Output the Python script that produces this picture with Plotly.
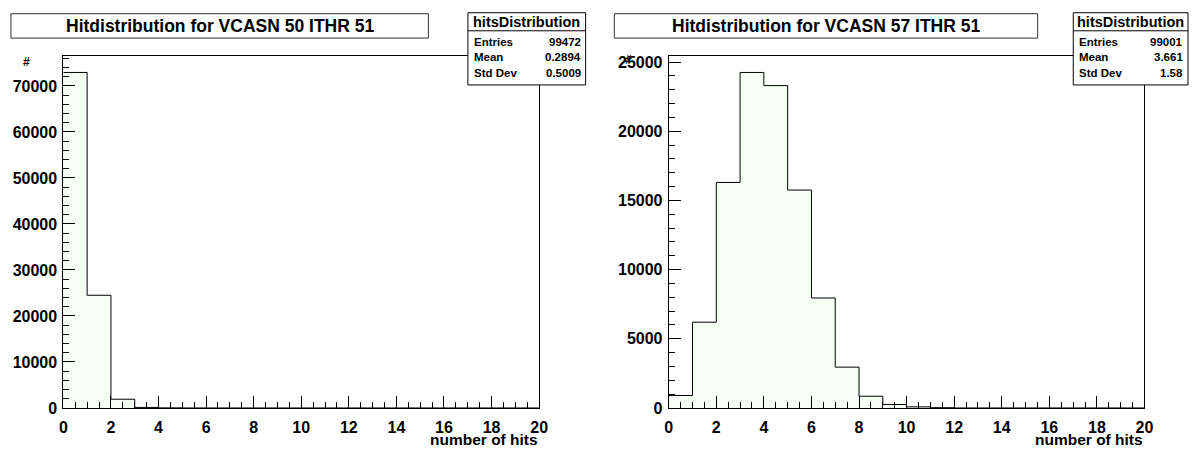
import plotly.graph_objects as go

W, H = 1198, 456

# ---------------- data ----------------
bin_edges = list(range(0, 21))
left_counts = [72930, 24500, 1900, 120, 20, 0, 0, 0, 0, 0,
               0, 0, 0, 0, 0, 0, 0, 0, 0, 0]
right_counts = [900, 6200, 16300, 24250, 23300, 15750, 7950, 2950, 850, 250,
                80, 20, 0, 0, 0, 0, 0, 0, 0, 0]
left_title = "Hitdistribution for VCASN 50 ITHR 51"
right_title = "Hitdistribution for VCASN 57 ITHR 51"
left_stats = [("Entries", "99472"), ("Mean", "0.2894"), ("Std Dev", "0.5009")]
right_stats = [("Entries", "99001"), ("Mean", "3.661"), ("Std Dev", "1.58")]
stats_name = "hitsDistribution"
x_title = "number of hits"
y_title = "#"

FONT = "Liberation Sans, Arial, Helvetica, sans-serif"
FILL = "#f6fff4"


def px(x):
    return x / W


def py(y):
    return 1 - y / H


fig = go.Figure()


def add_hist(counts, xa, ya):
    ys = list(counts) + [counts[-1]]
    fig.add_trace(go.Scatter(
        x=bin_edges, y=ys, mode="lines", line=dict(shape="hv", color="black", width=1),
        fill="tozeroy", fillcolor=FILL, xaxis=xa, yaxis=ya, hoverinfo="skip",
        showlegend=False))


add_hist(left_counts, "x", "y")
add_hist(right_counts, "x2", "y2")

frame_top, frame_bot = 55, 416
panels = [
    dict(x0=60, x1=541, dtick=10000, minor=2000, counts=left_counts),
    dict(x0=672, x1=1153, dtick=5000, minor=1000, counts=right_counts),
]

for i, p in enumerate(panels):
    sfx = "" if i == 0 else str(i + 1)
    fig.layout["xaxis" + sfx] = dict(
        domain=[px(p["x0"]), px(p["x1"])], range=[0, 20], anchor="y" + sfx,
        showline=True, linecolor="black", linewidth=1, mirror=True,
        ticks="inside", ticklen=12, tickwidth=1, tickcolor="black", tick0=0, dtick=2,
        ticklabelstandoff=5, layer="above traces",
        tickfont=dict(family=FONT, size=16, color="black", weight="bold"),
        minor=dict(ticks="inside", ticklen=6, tickwidth=1, dtick=0.5, tick0=0,
                   tickcolor="black", showgrid=False),
        showgrid=False, zeroline=False, fixedrange=True)
    fig.layout["yaxis" + sfx] = dict(
        domain=[py(frame_bot), py(frame_top)], range=[0, 1.05 * max(p["counts"])],
        anchor="x" + sfx,
        showline=True, linecolor="black", linewidth=1, mirror=True,
        ticks="inside", ticklen=12, tickwidth=1, tickcolor="black", tick0=0, dtick=p["dtick"],
        tickformat="d", ticklabelstandoff=2, layer="above traces",
        tickfont=dict(family=FONT, size=16, color="black", weight="bold"),
        minor=dict(ticks="inside", ticklen=6, tickwidth=1, dtick=p["minor"], tick0=0,
                   tickcolor="black", showgrid=False),
        showgrid=False, zeroline=False, fixedrange=True)

shapes = []
annotations = []

# title boxes
for (bx0, bx1, txt) in [(7, 429, left_title), (617, 1045, right_title)]:
    shapes.append(dict(type="rect", xref="paper", yref="paper",
                       x0=px(bx0), x1=px(bx1), y0=py(37), y1=py(12),
                       line=dict(color="#333333", width=1), fillcolor="white", layer="above"))
    annotations.append(dict(xref="paper", yref="paper", x=px((bx0 + bx1) / 2), y=py(24.5),
                            text=txt, showarrow=False, xanchor="center", yanchor="middle",
                            font=dict(family=FONT, size=17.5, color="black", weight="bold")))

# stats boxes
for (sx0, sx1, rows) in [(469, 588, left_stats), (1081, 1197, right_stats)]:
    shapes.append(dict(type="rect", xref="paper", yref="paper",
                       x0=px(sx0), x1=px(sx1), y0=py(85), y1=py(11),
                       line=dict(color="black", width=1), fillcolor="white", layer="above"))
    shapes.append(dict(type="line", xref="paper", yref="paper",
                       x0=px(sx0), x1=px(sx1), y0=py(29.5), y1=py(29.5),
                       line=dict(color="black", width=1), layer="above"))
    annotations.append(dict(xref="paper", yref="paper", x=px((sx0 + sx1) / 2), y=py(20),
                            text=stats_name, showarrow=False, xanchor="center", yanchor="middle",
                            font=dict(family=FONT, size=14.5, color="black", weight="bold")))
    for j, (lab, val) in enumerate(rows):
        yy = 41 + j * 15.8
        annotations.append(dict(xref="paper", yref="paper", x=px(sx0 + 4), y=py(yy),
                                text=lab, showarrow=False, xanchor="left", yanchor="middle",
                                font=dict(family=FONT, size=11.5, color="black", weight="bold")))
        annotations.append(dict(xref="paper", yref="paper", x=px(sx1 - 3), y=py(yy),
                                text=val, showarrow=False, xanchor="right", yanchor="middle",
                                font=dict(family=FONT, size=11.5, color="black", weight="bold")))

# axis titles
for p in panels:
    annotations.append(dict(xref="paper", yref="paper", x=px(p["x1"]), y=py(439),
                            text=x_title, showarrow=False, xanchor="right", yanchor="top",
                            borderpad=0,
                            font=dict(family=FONT, size=15.5, color="black", weight="bold")))
for (hx, hy) in [(22.5, 61), (631, 59)]:
    annotations.append(dict(xref="paper", yref="paper", x=px(hx), y=py(hy),
                            text=y_title, showarrow=False, xanchor="center", yanchor="middle",
                            font=dict(family=FONT, size=12, color="black", weight="bold")))

fig.update_layout(
    width=W, height=H, margin=dict(l=0, r=0, t=0, b=0),
    paper_bgcolor="white", plot_bgcolor="white",
    shapes=shapes, annotations=annotations, showlegend=False)

fig.write_html("out.html", config={"displayModeBar": False})
